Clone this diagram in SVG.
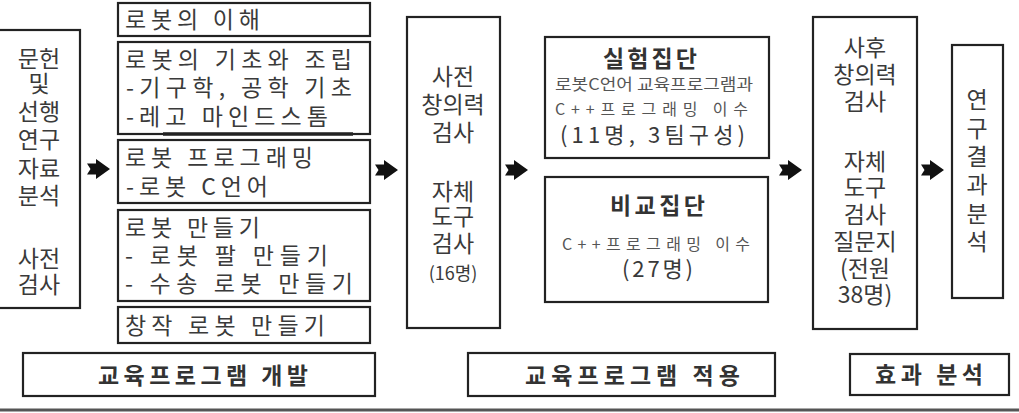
<svg xmlns="http://www.w3.org/2000/svg" width="1019" height="413" viewBox="0 0 1019 413">
<style>
.box{fill:#fff;stroke:#222;stroke-width:2.2}
text{font-family:"Noto Sans CJK KR","Noto Sans",sans-serif;fill:#3a3a3a}
.v{font-size:23px;text-anchor:middle}
.l{font-size:23px}
.b{font-size:23px;font-weight:bold;fill:#333}
.h{font-size:23px;font-weight:bold;fill:#333}
.s{font-size:16px;fill:#555}
.m{font-size:22px}
</style>
<defs>
<path id="arr" d="M0,-5.5 L9,-5.5 L9,-10 L23,0 L9,10 L9,5.5 L0,5.5 L3.5,0 Z" fill="#111"/>
</defs>
<rect width="1019" height="413" fill="#fff"/>

<g id="n-left">
<rect class="box" x="-3" y="30" width="83" height="278"/>
<text class="v" x="39" y="67">문헌</text>
<text class="v" x="39" y="92">및</text>
<text class="v" x="39" y="120">선행</text>
<text class="v" x="39" y="148">연구</text>
<text class="v" x="39" y="177">자료</text>
<text class="v" x="39" y="204">분석</text>
<text class="v" x="39" y="267">사전</text>
<text class="v" x="39" y="293">검사</text>
</g>

<g id="n-c1">
<rect class="box" x="118" y="3" width="252" height="33"/>
<text class="l" x="125" y="28" textLength="135" lengthAdjust="spacing">로봇의 이해</text>
</g>
<g id="n-c2">
<rect class="box" x="118" y="42" width="252" height="92"/>
<line x1="163" y1="134" x2="353" y2="134" stroke="#222" stroke-width="3.5"/>
<text class="l" x="125" y="68" textLength="227" lengthAdjust="spacing">로봇의 기초와 조립</text>
<text class="l" x="126" y="96" textLength="226" lengthAdjust="spacing">-기구학, 공학 기초</text>
<text class="l" x="126" y="125" textLength="202" lengthAdjust="spacing">-레고 마인드스톰</text>
</g>
<g id="n-c3">
<rect class="box" x="118" y="140" width="252" height="63"/>
<text class="l" x="125" y="166" textLength="188" lengthAdjust="spacing">로봇 프로그래밍</text>
<text class="l" x="126" y="195" textLength="142" lengthAdjust="spacing">-로봇 C언어</text>
</g>
<g id="n-c4">
<rect class="box" x="118" y="210" width="252" height="91"/>
<text class="l" x="125" y="236" textLength="135" lengthAdjust="spacing">로봇 만들기</text>
<text class="l" x="125" y="264" textLength="203" lengthAdjust="spacing">-  로봇 팔 만들기</text>
<text class="l" x="125" y="292" textLength="228" lengthAdjust="spacing">-  수송 로봇 만들기</text>
</g>
<g id="n-c5">
<rect class="box" x="118" y="307" width="252" height="36"/>
<text class="l" x="125" y="334" textLength="200" lengthAdjust="spacing">창작 로봇 만들기</text>
</g>

<g id="n-pre">
<rect class="box" x="407" y="17" width="93" height="311"/>
<text class="v" x="453" y="85">사전</text>
<text class="v" x="453" y="113">창의력</text>
<text class="v" x="453" y="141">검사</text>
<text class="v" x="453" y="200">자체</text>
<text class="v" x="453" y="225">도구</text>
<text class="v" x="453" y="252">검사</text>
<text class="v" x="453" y="280" style="font-size:18px">(16명)</text>
</g>

<g id="n-exp">
<rect class="box" x="545" y="37" width="224" height="121"/>
<text class="h" x="603" y="67" textLength="94" lengthAdjust="spacing">실험집단</text>
<text class="s" x="555" y="90" textLength="198" lengthAdjust="spacingAndGlyphs">로봇C언어 교육프로그램과</text>
<text class="s" x="555" y="115" textLength="193" lengthAdjust="spacing">C++프로그래밍 이수</text>
<text class="m" x="560" y="143" textLength="185" lengthAdjust="spacing">(11명, 3팀구성)</text>
</g>

<g id="n-cmp">
<rect class="box" x="545" y="177" width="223" height="125"/>
<text class="h" x="610" y="214" textLength="95" lengthAdjust="spacing">비교집단</text>
<text class="s" x="562" y="250" textLength="188" lengthAdjust="spacing">C++프로그래밍 이수</text>
<text class="m" x="622" y="277" textLength="71" lengthAdjust="spacing">(27명)</text>
</g>

<g id="n-post">
<rect class="box" x="813" y="17" width="104" height="312"/>
<text class="v" x="865" y="56">사후</text>
<text class="v" x="865" y="83">창의력</text>
<text class="v" x="865" y="110">검사</text>
<text class="v" x="865" y="170">자체</text>
<text class="v" x="865" y="196">도구</text>
<text class="v" x="865" y="223">검사</text>
<text class="v" x="865" y="250">질문지</text>
<text class="v" x="865" y="277">(전원</text>
<text class="v" x="865" y="303">38명)</text>
</g>

<g id="n-res">
<rect class="box" x="952" y="45" width="51" height="253"/>
<text class="v" x="977" y="108">연</text>
<text class="v" x="977" y="137">구</text>
<text class="v" x="977" y="165">결</text>
<text class="v" x="977" y="193">과</text>
<text class="v" x="977" y="222">분</text>
<text class="v" x="977" y="250">석</text>
</g>

<g id="n-dev">
<rect class="box" x="23" y="353" width="352" height="43"/>
<text class="b" x="98" y="384" textLength="210" lengthAdjust="spacing">교육프로그램 개발</text>
</g>
<g id="n-app">
<rect class="box" x="468" y="353" width="307" height="43"/>
<text class="b" x="525" y="384" textLength="215" lengthAdjust="spacing">교육프로그램 적용</text>
</g>
<g id="n-eff">
<rect class="box" x="850" y="354" width="159" height="41"/>
<text class="b" x="875" y="383" textLength="108" lengthAdjust="spacing">효과 분석</text>
</g>

<g id="connectors">
<use href="#arr" x="87" y="169"/>
<use href="#arr" x="375" y="170"/>
<use href="#arr" x="505" y="170"/>
<use href="#arr" x="779" y="170"/>
<use href="#arr" x="921" y="170"/>
<line x1="0" y1="410" x2="1019" y2="410" stroke="#555" stroke-width="3"/>
</g>
</svg>
